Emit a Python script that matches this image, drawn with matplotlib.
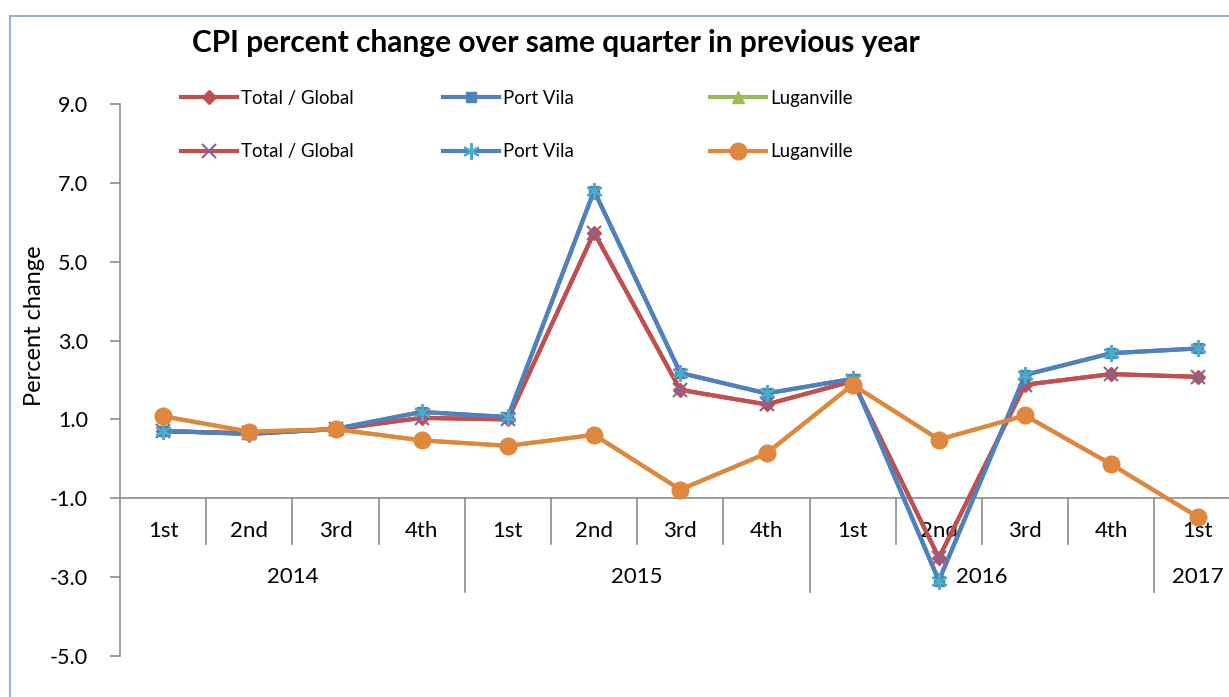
import matplotlib.pyplot as plt
from matplotlib.patches import Rectangle
from matplotlib.lines import Line2D
import numpy as np

quarters = ['1st', '2nd', '3rd', '4th', '1st', '2nd', '3rd', '4th',
            '1st', '2nd', '3rd', '4th', '1st']
years = ['2014', '2015', '2016', '2017']
year_spans = [(0, 3), (4, 7), (8, 11), (12, 12)]

total_global = [0.70, 0.65, 0.75, 1.04, 1.00, 5.74, 1.75, 1.38, 1.97, -2.51, 1.88, 2.15, 2.08]
port_vila = [0.71, 0.63, 0.76, 1.19, 1.06, 6.80, 2.18, 1.66, 2.03, -3.09, 2.13, 2.68, 2.80]
luganville = [1.08, 0.69, 0.75, 0.47, 0.33, 0.61, -0.78, 0.14, 1.88, 0.49, 1.10, -0.14, -1.47]

red = '#C0504D'
blue = '#4F81BD'
green = '#9BBB59'
purple = '#8064A2'
cyan = '#4BACC6'
orange = '#E0873D'
grey = '#8C8C8C'

plt.rcParams['font.family'] = ['Lato', 'DejaVu Sans']

W, H = 1229, 697
fig = plt.figure(figsize=(W / 100, H / 100), dpi=100)

# outer chart border (cropped on the right and bottom)
fig.patches.append(Rectangle((10 / W, -0.1), 1.2, 1 - 16 / H + 0.1,
                             transform=fig.transFigure, fill=False,
                             edgecolor='#95B3D7', linewidth=1.5))

left_px, right_px = 120, 120 + 13 * 86.2
top_px, bottom_px = 104, 656
ax = fig.add_axes([left_px / W, 1 - bottom_px / H,
                   (right_px - left_px) / W, (bottom_px - top_px) / H])

x = np.arange(len(quarters))

# first set of series (hidden underneath the second set)
ax.plot(x, total_global, color=red, lw=3, marker='D', ms=7, zorder=3)
ax.plot(x, port_vila, color=blue, lw=3, marker='s', ms=7, zorder=3)
ax.plot(x, luganville, color=green, lw=3, marker='^', ms=8, zorder=3)

# second set
ax.plot(x, total_global, color=red, lw=3, zorder=4)
ax.plot(x, total_global, ls='none', marker='x', ms=10, mew=1.5, color=purple, zorder=5)
ax.plot(x, port_vila, color=blue, lw=3, zorder=4)
ax.plot(x, port_vila, ls='none', marker=(6, 2, 0), ms=12, mew=1.5, color=cyan, zorder=5)
ax.plot(x, luganville, color=orange, lw=3, marker='o', ms=12, zorder=6)

ax.set_xlim(-0.5, 12.5)
ax.set_ylim(-5, 9)
ax.set_yticks(np.arange(-5, 10, 2))
ax.set_yticklabels(['%.1f' % v for v in np.arange(-5, 10, 2)], fontsize=15.5)
ax.tick_params(axis='y', direction='out', length=7, color=grey, width=1.2, pad=16)
ax.set_xticks([])
for s in ['top', 'right', 'bottom']:
    ax.spines[s].set_visible(False)
ax.spines['left'].set_color(grey)
ax.spines['left'].set_linewidth(1.2)

# category axis crossing at -1
ax.axhline(-1, color=grey, lw=1.2, zorder=2)
short_y = -1 - 46 / 39.4
long_y = -1 - 94 / 39.4
year_starts = {s[0] for s in year_spans}
for b in np.arange(0.5, 12.5, 1.0):
    end = long_y if (b + 0.5) in year_starts else short_y
    ax.plot([b, b], [-1, end], color=grey, lw=1.2, zorder=2, clip_on=False)

for i, q in enumerate(quarters):
    ax.text(i, -1.82, q, ha='center', va='center', fontsize=16, zorder=1)
for yr, (a, b) in zip(years, year_spans):
    ax.text((a + b) / 2, -3.0, yr, ha='center', va='center', fontsize=16, zorder=1)

fig.text(35 / W, 1 - 326 / H, 'Percent change', rotation=90,
         ha='center', va='center', fontsize=17)

fig.text(556 / W, 1 - 43 / H, 'CPI percent change over same quarter in previous year',
         ha='center', va='center', fontsize=21.5, fontweight='bold')

# legend: three columns of two rows
cols = [
    ([Line2D([], [], color=red, lw=3, marker='D', ms=7),
      Line2D([], [], color=red, lw=3, marker='x', ms=10, mew=1.5, mec=purple)],
     ['Total / Global', 'Total / Global'], 181),
    ([Line2D([], [], color=blue, lw=3, marker='s', ms=7),
      Line2D([], [], color=blue, lw=3, marker=(6, 2, 0), ms=12, mew=1.5, mec=cyan)],
     ['Port Vila', 'Port Vila'], 443),
    ([Line2D([], [], color=green, lw=3, marker='^', ms=8),
      Line2D([], [], color=orange, lw=3, marker='o', ms=12)],
     ['Luganville', 'Luganville'], 710),
]
for handles, labels, xpx in cols:
    leg = fig.legend(handles, labels, loc='upper left',
                     bbox_to_anchor=(xpx / W, 1 - 90 / H), frameon=False,
                     fontsize=13.4, handlelength=3.0, handletextpad=0.25,
                     labelspacing=1.95, borderpad=0, borderaxespad=0,
                     numpoints=1)

fig.savefig('out.png', dpi=100)
